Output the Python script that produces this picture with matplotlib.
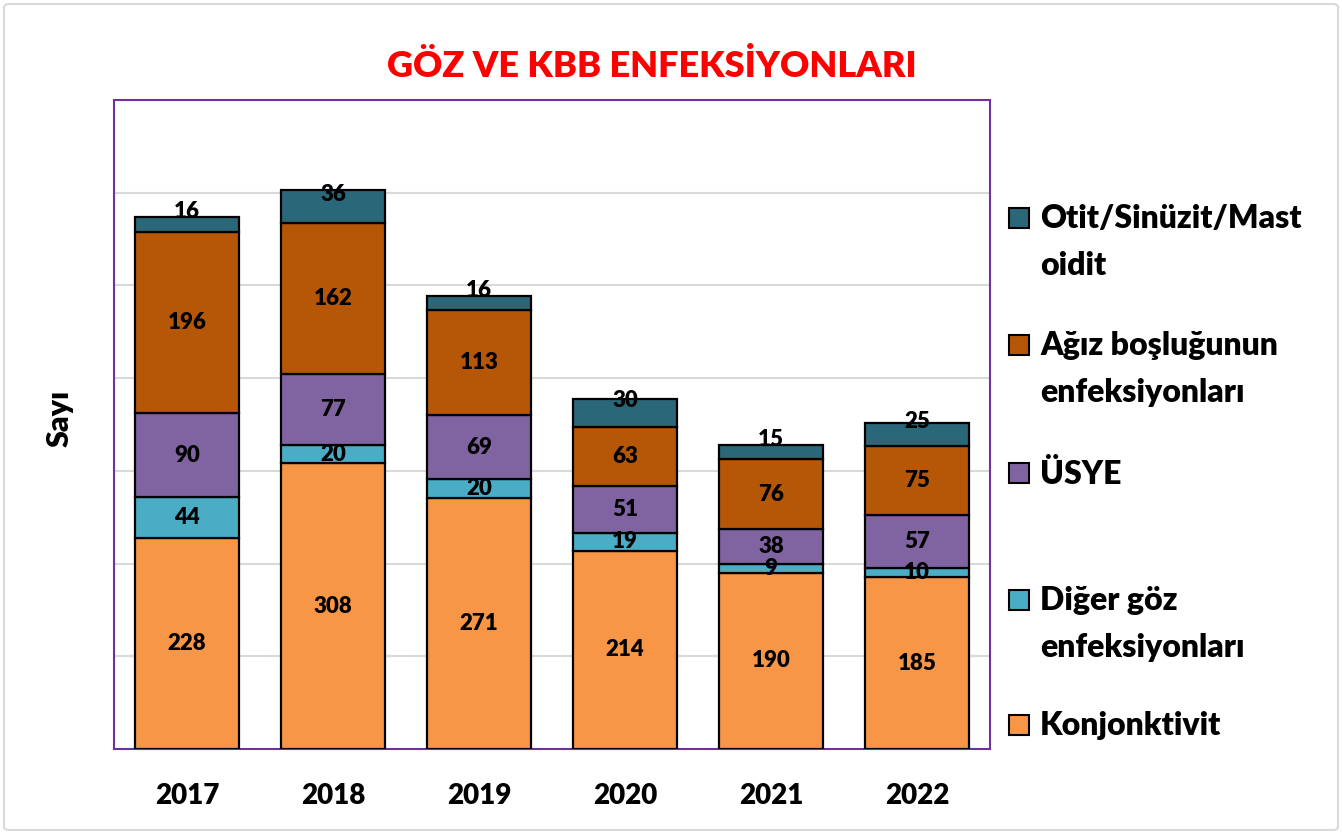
import matplotlib.pyplot as plt
import numpy as np
from matplotlib.patches import Rectangle, FancyBboxPatch

plt.rcParams['font.family'] = ['Lato', 'DejaVu Sans']
plt.rcParams['font.weight'] = 'heavy'

years = ['2017', '2018', '2019', '2020', '2021', '2022']
konjonktivit = [228, 308, 271, 214, 190, 185]
diger_goz = [44, 20, 20, 19, 9, 10]
usye = [90, 77, 69, 51, 38, 57]
agiz = [196, 162, 113, 63, 76, 75]
otit = [16, 36, 16, 30, 15, 25]

series = [
    ('Konjonktivit', konjonktivit, '#F79646'),
    ('Diğer göz\nenfeksiyonları', diger_goz, '#4BACC6'),
    ('ÜSYE', usye, '#8064A2'),
    ('Ağız boşluğunun\nenfeksiyonları', agiz, '#B65708'),
    ('Otit/Sinüzit/Mast\noidit', otit, '#2A6779'),
]
W = 'heavy'

fig = plt.figure(figsize=(13.42, 8.34), dpi=100)
ax = fig.add_axes([114 / 1342, 1 - 749 / 834, 876 / 1342, 649 / 834])

x = np.arange(len(years))
width = 0.71
bottom = np.zeros(len(years))
for name, vals, color in series:
    vals = np.array(vals)
    ax.bar(x, vals, width, bottom=bottom, color=color, edgecolor='black', linewidth=1.6, zorder=3)
    for xi, b, v in zip(x, bottom, vals):
        if name.startswith('Otit'):
            ax.annotate(str(v), (xi, b + v / 2), xytext=(0, 9), textcoords='offset points',
                        ha='center', va='center', fontsize=16, fontweight=W, zorder=4)
        else:
            ax.text(xi, b + v / 2, str(v), ha='center', va='center', fontsize=16,
                    fontweight=W, zorder=4)
    bottom = bottom + vals

ax.set_xlim(-0.5, len(years) - 0.5)
ax.set_ylim(0, 700)
ax.set_yticks(np.arange(100, 700, 100))
ax.yaxis.grid(True, color='#D9D9D9', linewidth=1.5, zorder=0)
ax.tick_params(axis='y', left=False, labelleft=False)
ax.tick_params(axis='x', bottom=False, pad=21, labelsize=20)
ax.set_xticks(x, years)
for lbl in ax.get_xticklabels():
    lbl.set_fontweight(W)
for sp in ax.spines.values():
    sp.set_color('#7030A0')
    sp.set_linewidth(1.5)

fig.text(60 / 1342, 1 - 418 / 834, 'Sayı', rotation=90, ha='center', va='center',
         fontsize=22, fontweight=W)
fig.text(652 / 1342, 1 - 66 / 834, 'GÖZ VE KBB ENFEKSİYONLARI', ha='center', va='center',
         fontsize=26, fontweight=W, color='#FF0000')

# legend drawn by hand so that handles sit at the first text line
leg_y = [218, 345, 473, 600, 725][::-1]
for (name, vals, color), yy in zip(series, leg_y):
    fig.patches.append(Rectangle((1009 / 1342, 1 - (yy + 10) / 834), 20 / 1342, 20 / 834,
                                 transform=fig.transFigure, facecolor=color,
                                 edgecolor='black', linewidth=1.5))
    fig.text(1040 / 1342, 1 - (yy - 14) / 834, name, ha='left', va='top', fontsize=23,
             fontweight=W, linespacing=1.75)

fig.patches.append(FancyBboxPatch((4 / 1342, 4 / 834), 1334 / 1342, 826 / 834,
                                  boxstyle='round,pad=0,rounding_size=0.004',
                                  transform=fig.transFigure, facecolor='none',
                                  edgecolor='#D9D9D9', linewidth=1.5))

fig.savefig('out.png', dpi=100)
